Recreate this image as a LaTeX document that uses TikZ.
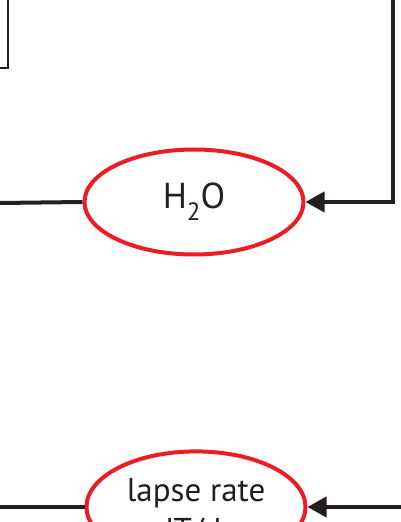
\documentclass[tikz,border=0pt]{standalone}
\usepackage{fontspec}
\setmainfont{PT Sans}
\usepackage{tikz}
\usetikzlibrary{arrows.meta, shapes.geometric, positioning}

\definecolor{inkdark}{HTML}{231F20}
\definecolor{inkred}{HTML}{ED1C24}

\newcommand{\lowsub}[1]{\raisebox{-12pt}{\fontsize{25}{25}\selectfont #1}}

\begin{document}
\begin{tikzpicture}[x=1pt, y=1pt,
    varnode/.style={ellipse, draw=inkred, line width=4pt, minimum width=219pt,
      minimum height=105pt, inner sep=0pt, align=center, text=inkdark,
      font=\fontsize{36}{40}\selectfont},
    boxnode/.style={rectangle, draw=inkdark, line width=2pt, minimum width=200pt,
      minimum height=120pt},
    link/.style={draw=inkdark, line width=4pt},
    feed/.style={link, -{Triangle[length=19pt, width=20pt]}}]
          \clip (0,0) rectangle (401,522);
          \useasboundingbox (0,0) rectangle (401,522);

          \node [boxnode, anchor=south east] (box) at (9,453) {}; % box, cut off at top left

          \node [varnode] (h2o) at (194,320) {H\lowsub{2}O};
          \node [varnode, font=\fontsize{33}{40}\selectfont] (lapse) at (196,15)
            {\rule{0pt}{34pt}lapse rate\\dT/dz};

          \coordinate (h2oin) at (0,319);
          \coordinate (lapsein) at (0,15);
          \coordinate (rtop) at (392.5,522);
          \coordinate (rlow) at (401,15);

          \draw [link] (h2oin) -- (h2o.west);
          \draw [link] (lapsein) -- (lapse.west);

          \draw [feed] (rtop) |- (h2o.east);
          \draw [feed] (rlow) -- (lapse.east);
        \end{tikzpicture}
\end{document}
